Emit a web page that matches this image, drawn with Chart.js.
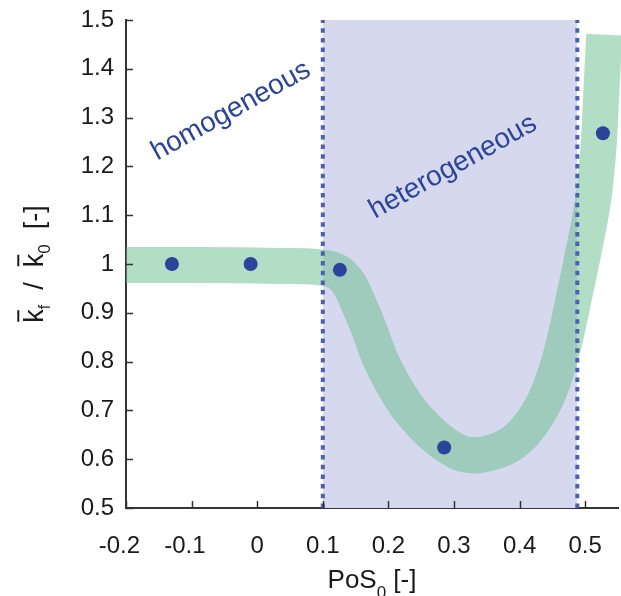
<!DOCTYPE html>
<html>
<head>
<meta charset="utf-8">
<script src="https://cdn.jsdelivr.net/npm/chart.js@4"></script>
<style>
  html, body { margin: 0; padding: 0; background: #fff; }
  #wrap { width: 621px; height: 596px; }
</style>
</head>
<body>
<div id="wrap"><canvas id="chart" width="621" height="596"></canvas></div>
<script>
// --------------------------------------------------------------------------
// data
// --------------------------------------------------------------------------
const pointX = [-0.13, -0.01, 0.126, 0.285, 0.527];
const pointY = [1.0, 1.0, 0.988, 0.624, 1.268];

// centre line of the shaded trend band
const bandX = [-0.21, -0.087, 0.035, 0.088, 0.119, 0.139, 0.154, 0.171, 0.187, 0.206, 0.227, 0.254,
               0.288, 0.320, 0.355, 0.389, 0.416, 0.439, 0.454, 0.465, 0.474, 0.482, 0.498, 0.512,
               0.520, 0.524, 0.529];
const bandY = [0.998, 0.998, 0.996, 0.994, 0.986, 0.961, 0.920, 0.865, 0.807, 0.756, 0.711, 0.668,
               0.629, 0.609, 0.613, 0.633, 0.670, 0.721, 0.773, 0.824, 0.875, 0.926, 1.029, 1.131,
               1.234, 1.336, 1.470];

// heterogeneous region limits
const regionX = [0.1, 0.488];
const regionLabels = ['homogeneous', 'heterogeneous'];

const xTickValues = [-0.2, -0.1, 0, 0.1, 0.2, 0.3, 0.4, 0.5];
const yTickValues = [0.5, 0.6, 0.7, 0.8, 0.9, 1.0, 1.1, 1.2, 1.3, 1.4, 1.5];

const FONT = '"Liberation Sans", Arial, Helvetica, sans-serif';
const BLUE_TEXT = '#2c4499';

const toXY = (xs, ys) => xs.map((x, i) => ({ x: x, y: ys[i] }));

// --------------------------------------------------------------------------
// extra drawing: inward ticks, axis titles, region labels
// --------------------------------------------------------------------------
function drawRich(ctx, parts, cx, baseY) {
    let total = 0;
    parts.forEach(p => {
        ctx.font = `${p.size}px ${FONT}`;
        p.w = ctx.measureText(p.t).width;
        total += p.w;
    });
    let x = cx - total / 2;
    parts.forEach(p => {
        ctx.font = `${p.size}px ${FONT}`;
        ctx.fillText(p.t, x, baseY + (p.dy || 0));
        if (p.bar) {
            const by = baseY - p.size * 0.73 - 5;
            ctx.beginPath();
            ctx.moveTo(x + 1, by);
            ctx.lineTo(x + p.w - 1, by);
            ctx.lineWidth = 2;
            ctx.stroke();
        }
        x += p.w;
    });
}

const extrasPlugin = {
    id: 'extras',
    afterDraw(chart) {
        const { ctx, chartArea, scales } = chart;
        ctx.save();

        // inward tick marks
        ctx.strokeStyle = '#333';
        ctx.lineWidth = 1.5;
        xTickValues.forEach(v => {
            const px = Math.round(scales.x.getPixelForValue(v)) + 0.5;
            ctx.beginPath();
            ctx.moveTo(px, chartArea.bottom);
            ctx.lineTo(px, chartArea.bottom - 7);
            ctx.stroke();
        });
        yTickValues.forEach(v => {
            const py = Math.round(scales.y.getPixelForValue(v)) + 0.5;
            ctx.beginPath();
            ctx.moveTo(chartArea.left, py);
            ctx.lineTo(chartArea.left + 7, py);
            ctx.stroke();
        });

        // axis titles
        ctx.fillStyle = '#1a1a1a';
        ctx.strokeStyle = '#1a1a1a';
        ctx.textAlign = 'left';
        ctx.textBaseline = 'alphabetic';
        const midX = (chartArea.left + chartArea.right) / 2;
        drawRich(ctx, [
            { t: 'PoS', size: 26 },
            { t: '0', size: 17, dy: 10 },
            { t: ' [-]', size: 26 }
        ], midX, 588);

        ctx.save();
        ctx.translate(43, (chartArea.top + chartArea.bottom) / 2);
        ctx.rotate(-Math.PI / 2);
        drawRich(ctx, [
            { t: 'k', size: 27, bar: true },
            { t: 'f', size: 16, dy: 7 },
            { t: '  /  ', size: 27 },
            { t: 'k', size: 27, bar: true },
            { t: '0', size: 17, dy: 7 },
            { t: '  [-]', size: 27 }
        ], 0, 0);
        ctx.restore();

        // region labels
        ctx.fillStyle = BLUE_TEXT;
        ctx.font = `28px ${FONT}`;
        ctx.textAlign = 'center';
        ctx.textBaseline = 'middle';
        [[231, 111], [453, 167]].forEach((pos, i) => {
            ctx.save();
            ctx.translate(pos[0], pos[1]);
            ctx.rotate(-29 * Math.PI / 180);
            ctx.fillText(regionLabels[i], 0, 0);
            ctx.restore();
        });

        ctx.restore();
    }
};

// --------------------------------------------------------------------------
// chart
// --------------------------------------------------------------------------
const fmt = v => String(Number(v.toFixed(1)));

new Chart(document.getElementById('chart'), {
    type: 'scatter',
    data: {
        datasets: [
            {
                // measured points
                data: toXY(pointX, pointY),
                backgroundColor: '#2a439b',
                borderWidth: 0,
                pointRadius: 7,
                order: 0
            },
            {
                // region limits (dotted)
                type: 'line',
                data: [{ x: regionX[0], y: 0.5 }, { x: regionX[0], y: 1.5 }],
                borderColor: '#4b5fb3',
                borderWidth: 4,
                borderDash: [4.5, 5.2],
                pointRadius: 0,
                fill: false,
                order: 1
            },
            {
                type: 'line',
                data: [{ x: regionX[1], y: 0.5 }, { x: regionX[1], y: 1.5 }],
                borderColor: '#4b5fb3',
                borderWidth: 4,
                borderDash: [4.5, 5.2],
                pointRadius: 0,
                fill: false,
                order: 1
            },
            {
                // trend band
                type: 'line',
                data: toXY(bandX, bandY),
                borderColor: 'rgba(103, 189, 141, 0.5)',
                borderWidth: 36,
                borderCapStyle: 'butt',
                borderJoinStyle: 'round',
                tension: 0.4,
                pointRadius: 0,
                fill: false,
                clip: { left: 0, top: 0, right: 10, bottom: 0 },
                order: 2
            },
            {
                // heterogeneous region shading
                type: 'line',
                data: [{ x: regionX[0], y: 1.5 }, { x: regionX[1], y: 1.5 }],
                borderWidth: 0,
                borderColor: 'rgba(0,0,0,0)',
                backgroundColor: '#d6d9ed',
                pointRadius: 0,
                fill: 'start',
                order: 3
            }
        ]
    },
    options: {
        responsive: false,
        devicePixelRatio: 1,
        animation: false,
        layout: { autoPadding: false, padding: { top: 20, right: 3, left: 0, bottom: 0 } },
        plugins: {
            legend: { display: false },
            tooltip: { enabled: false }
        },
        scales: {
            x: {
                type: 'linear',
                min: -0.2,
                max: 0.55,
                z: 1,
                afterBuildTicks: s => { s.ticks = xTickValues.map(v => ({ value: v })); },
                afterFit: s => { s.height = 88; s.paddingLeft = 0; s.paddingRight = 0; },
                grid: { drawOnChartArea: false, drawTicks: false },
                border: { color: '#333', width: 2 },
                ticks: {
                    padding: 4,
                    color: '#1a1a1a',
                    // tall line box pushes the labels down without widening side padding
                    font: { family: FONT, size: 24, lineHeight: 2.867 },
                    maxRotation: 0,
                    autoSkip: false,
                    // keep the number centred on the tick, minus hangs left
                    callback: v => v < 0 ? fmt(v) + '\u2007' : fmt(v)
                }
            },
            y: {
                type: 'linear',
                min: 0.5,
                max: 1.5,
                z: 1,
                afterBuildTicks: s => { s.ticks = yTickValues.map(v => ({ value: v })); },
                afterFit: s => { s.width = 126; s.paddingTop = 0; s.paddingBottom = 0; },
                grid: { drawOnChartArea: false, drawTicks: false },
                border: { color: '#333', width: 2 },
                ticks: {
                    padding: 12,
                    color: '#1a1a1a',
                    font: { family: FONT, size: 24 },
                    autoSkip: false,
                    callback: v => fmt(v)
                }
            }
        }
    },
    plugins: [extrasPlugin]
});
</script>
</body>
</html>
